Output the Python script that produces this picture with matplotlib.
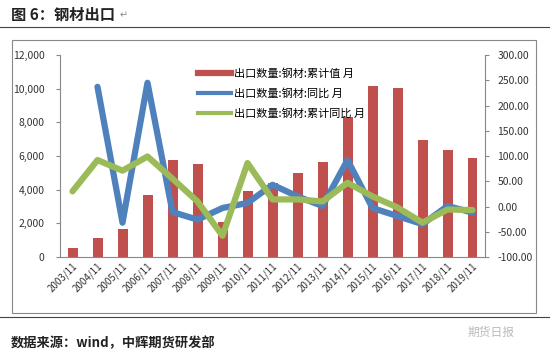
import matplotlib
matplotlib.use("Agg")
import matplotlib.pyplot as plt
from matplotlib.patches import Rectangle
from matplotlib.lines import Line2D
import numpy as np

plt.rcParams['font.family'] = ['Noto Sans CJK SC', 'DejaVu Sans']

categories = ["2003/11", "2004/11", "2005/11", "2006/11", "2007/11", "2008/11", "2009/11",
              "2010/11", "2011/11", "2012/11", "2013/11", "2014/11", "2015/11", "2016/11",
              "2017/11", "2018/11", "2019/11"]
cum_value = [550, 1150, 1640, 3680, 5760, 5540, 2060, 3920, 4400, 5000, 5620, 8310,
             10150, 10030, 6930, 6330, 5890]
yoy = [None, 237, -32, 245, -11, -26, -3, 7, 43, 20, 1, 92, -3, -19, -35, 1, -12]
cum_yoy = [30, 92, 71, 99, 55, 10, -58, 86, 14, 14, 10, 47, 20, -2, -32, -6, -7]

legend_labels = ["出口数量:钢材:累计值 月", "出口数量:钢材:同比 月", "出口数量:钢材:累计同比 月"]
left_ticks = [0, 2000, 4000, 6000, 8000, 10000, 12000]
right_ticks = [-100, -50, 0, 50, 100, 150, 200, 250, 300]

W, H = 550, 356
fig = plt.figure(figsize=(W / 100, H / 100), dpi=100)

def fx(px): return px / W
def fy(py): return 1 - py / H

# Title and rules
fig.text(fx(11), fy(15), "图 6：钢材出口", fontsize=11, fontweight='bold', va='center', ha='left', color='#222222')
fig.text(fx(120), fy(15), "↵", fontsize=7, va='center', ha='left', color='#888888', family=['DejaVu Sans'])
fig.add_artist(Line2D([fx(0), fx(550)], [fy(27), fy(27)], color='#444444', lw=0.8))
fig.add_artist(Rectangle((fx(12), fy(313)), fx(536) - fx(12), fy(40) - fy(313),
                         fill=False, edgecolor='#888888', lw=0.8))
fig.add_artist(Line2D([fx(0), fx(550)], [fy(317), fy(317)], color='#444444', lw=0.8))
fig.text(fx(11), fy(343), "数据来源：wind，中辉期货研发部", fontsize=9.5, fontweight='bold', va='center', ha='left', color='#222222')
fig.text(fx(468), fy(332), "期货日报", fontsize=8.5, va='center', ha='left', color='#bbbbbb')

ax = fig.add_axes([fx(60), fy(257), fx(485) - fx(60), fy(55) - fy(257)])
x = np.arange(len(categories))
bars = ax.bar(x, cum_value, width=0.4, color='#C0504D', zorder=2)
ax.set_xlim(-0.5, len(categories) - 0.5)
ax.set_ylim(0, 12000)
ax.set_yticks(left_ticks)
ax.set_yticklabels([f"{v:,}" for v in left_ticks], fontsize=7.5, color='#333333')
ax.set_xticks(x)
ax.set_xticklabels(categories, rotation=45, ha='right', rotation_mode='anchor', fontsize=7, color='#333333')
ax.tick_params(axis='x', length=0, pad=3)
ax.tick_params(axis='y', length=3, color='#888888', pad=8)
for s in ['top', 'right']:
    ax.spines[s].set_visible(False)
ax.spines['left'].set_color('#888888')
ax.spines['bottom'].set_color('#888888')
ax.patch.set_alpha(0)

ax2 = ax.twinx()
xb = [i for i, v in enumerate(yoy) if v is not None]
yb = [v for v in yoy if v is not None]
l1, = ax2.plot(xb, yb, color='#4F81BD', lw=4.5, solid_capstyle='round', solid_joinstyle='round', zorder=3)
l2, = ax2.plot(x, cum_yoy, color='#9BBB59', lw=4.5, solid_capstyle='round', solid_joinstyle='round', zorder=4)
ax2.set_ylim(-100, 300)
ax2.set_yticks(right_ticks)
ax2.set_yticklabels([f"{v:.2f}" for v in right_ticks], fontsize=7.5, color='#333333')
ax2.tick_params(axis='y', length=3, color='#888888', pad=6)
for s in ['top', 'left', 'bottom']:
    ax2.spines[s].set_visible(False)
ax2.spines['right'].set_color('#888888')

handles = [Line2D([], [], color='#C0504D', lw=4.5),
           Line2D([], [], color='#4F81BD', lw=3),
           Line2D([], [], color='#9BBB59', lw=3)]
leg = fig.legend(handles, legend_labels, loc='upper left', bbox_to_anchor=(fx(188), fy(58)),
                 frameon=False, fontsize=8, handlelength=3.0, handletextpad=0.2, labelspacing=0.85)

fig.savefig("out.png", dpi=100)
